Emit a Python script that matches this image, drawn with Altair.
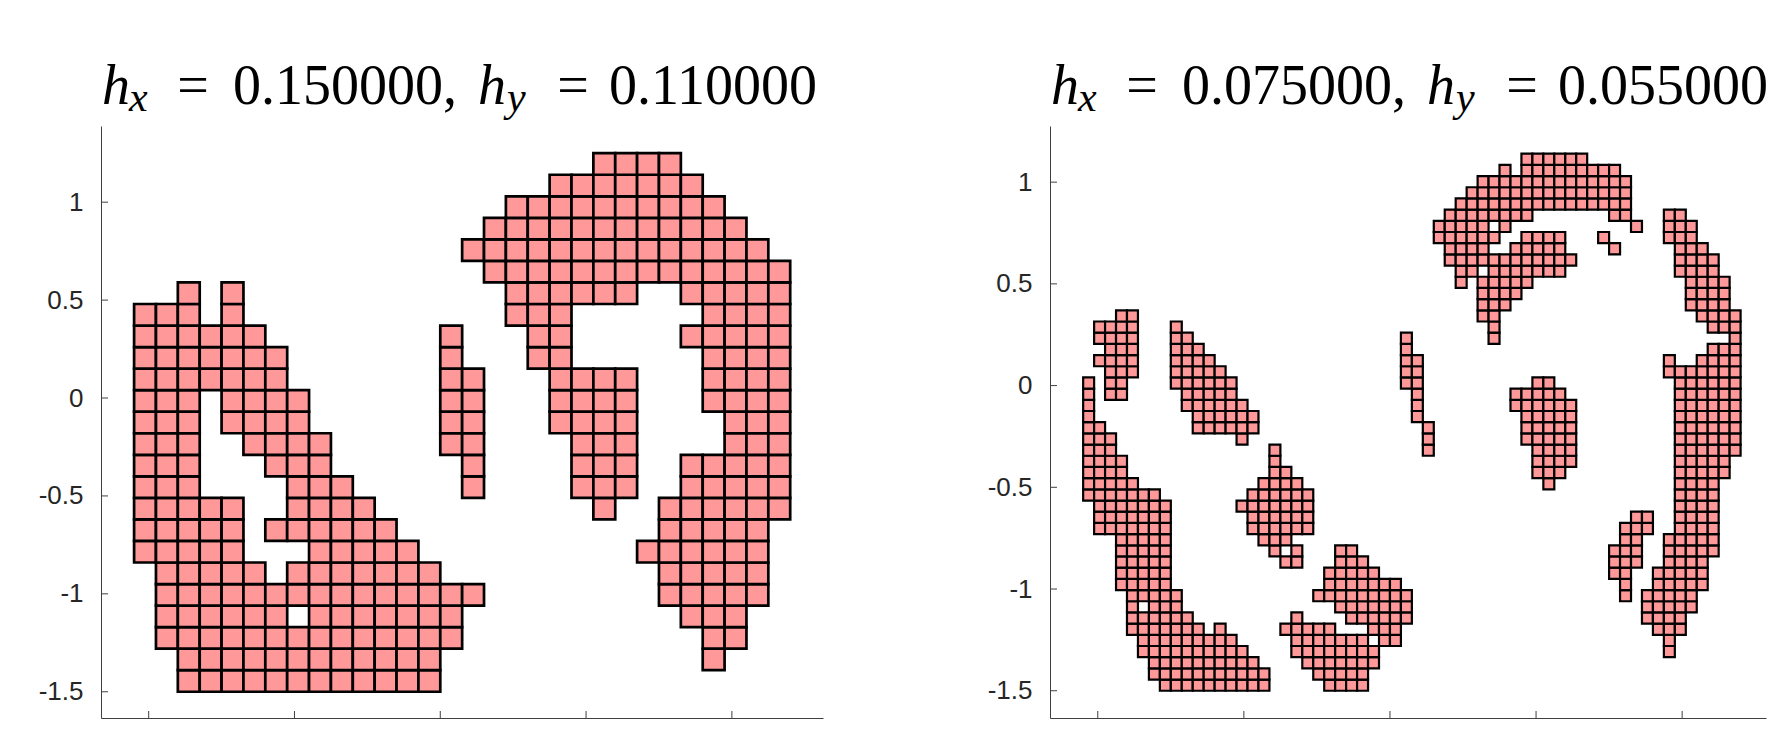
import altair as alt
import pandas as pd

# ---------------- grid parameters ----------------
X_ORIGIN = -2.1
Y_ORIGIN = -1.5
LEFT_H = (0.15, 0.11)
RIGHT_H = (0.075, 0.055)

# ---------------- cells: (row index, [(first col, last col), ...]) ----------------
LEFT_ROWS = [
    (0, [(2, 13)]),
    (1, [(2, 13), (26, 26)]),
    (2, [(1, 14), (26, 27)]),
    (3, [(1, 6), (8, 14), (25, 27)]),
    (4, [(1, 15), (24, 28)]),
    (5, [(1, 5), (7, 13), (24, 28)]),
    (6, [(0, 4), (8, 12), (23, 28)]),
    (7, [(0, 4), (6, 11), (24, 28)]),
    (8, [(0, 4), (7, 10), (21, 21), (24, 29)]),
    (9, [(0, 2), (7, 9), (15, 15), (20, 22), (25, 29)]),
    (10, [(0, 2), (6, 8), (15, 15), (20, 22), (25, 29)]),
    (11, [(0, 2), (5, 8), (14, 15), (20, 22), (27, 29)]),
    (12, [(0, 2), (4, 7), (14, 15), (19, 22), (27, 29)]),
    (13, [(0, 2), (4, 7), (14, 15), (19, 22), (26, 29)]),
    (14, [(0, 6), (14, 15), (19, 22), (26, 29)]),
    (15, [(0, 6), (14, 14), (18, 19), (26, 29)]),
    (16, [(0, 5), (14, 14), (18, 19), (25, 29)]),
    (17, [(0, 2), (4, 4), (17, 19), (26, 29)]),
    (18, [(2, 2), (4, 4), (17, 22), (25, 29)]),
    (19, [(16, 29)]),
    (20, [(15, 28)]),
    (21, [(16, 27)]),
    (22, [(17, 26)]),
    (23, [(19, 25)]),
    (24, [(21, 24)]),
]

RIGHT_ROWS = [
    (0, [(7, 16), (22, 25)]),
    (1, [(6, 16), (21, 25)]),
    (2, [(6, 15), (20, 26)]),
    (3, [(5, 14), (19, 26), (53, 53)]),
    (4, [(5, 13), (19, 25), (27, 28), (53, 53)]),
    (5, [(4, 10), (12, 12), (18, 22), (26, 28), (52, 54)]),
    (6, [(4, 9), (19, 19), (24, 29), (51, 54)]),
    (7, [(4, 4), (6, 8), (23, 29), (51, 55)]),
    (8, [(4, 8), (21, 29), (49, 49), (51, 55)]),
    (9, [(3, 7), (22, 28), (49, 49), (52, 56)]),
    (10, [(3, 7), (22, 26), (48, 49), (52, 56)]),
    (11, [(3, 7), (18, 19), (23, 25), (48, 50), (53, 56)]),
    (12, [(3, 7), (17, 17), (19, 19), (23, 24), (48, 50), (53, 57)]),
    (13, [(3, 7), (16, 18), (49, 50), (53, 57)]),
    (14, [(1, 7), (15, 20), (49, 51), (54, 57)]),
    (15, [(1, 7), (15, 20), (50, 51), (54, 57)]),
    (16, [(1, 7), (14, 20), (54, 57)]),
    (17, [(0, 6), (15, 20), (54, 57)]),
    (18, [(0, 4), (16, 19), (42, 42), (54, 57)]),
    (19, [(0, 3), (17, 18), (41, 43), (54, 58)]),
    (20, [(0, 3), (17, 17), (41, 44), (54, 58)]),
    (21, [(0, 2), (17, 17), (31, 31), (41, 44), (54, 59)]),
    (22, [(0, 2), (14, 14), (31, 31), (40, 44), (54, 59)]),
    (23, [(0, 1), (10, 15), (31, 31), (40, 44), (54, 59)]),
    (24, [(0, 0), (10, 15), (30, 30), (40, 44), (54, 59)]),
    (25, [(0, 0), (9, 14), (30, 30), (39, 44), (54, 59)]),
    (26, [(0, 0), (2, 3), (9, 13), (30, 30), (39, 43), (54, 59)]),
    (27, [(0, 0), (2, 3), (8, 13), (29, 30), (41, 42), (54, 59)]),
    (28, [(2, 4), (8, 12), (29, 30), (53, 59)]),
    (29, [(1, 4), (8, 11), (29, 30), (53, 53), (56, 59)]),
    (30, [(2, 4), (8, 10), (29, 29), (57, 59)]),
    (31, [(1, 4), (8, 9), (29, 29), (37, 37), (59, 59)]),
    (32, [(1, 4), (8, 8), (37, 37), (57, 59)]),
    (33, [(3, 4), (36, 37), (56, 59)]),
    (34, [(36, 38), (55, 58)]),
    (35, [(36, 39), (55, 58)]),
    (36, [(34, 34), (36, 40), (55, 58)]),
    (37, [(34, 35), (37, 43), (54, 57)]),
    (38, [(33, 44), (54, 57)]),
    (39, [(33, 36), (39, 43), (48, 48), (54, 56)]),
    (40, [(32, 37), (40, 43), (47, 47), (53, 55)]),
    (41, [(32, 36), (38, 38), (50, 50), (53, 55)]),
    (42, [(33, 40), (48, 49), (53, 54)]),
    (43, [(34, 49)]),
    (44, [(35, 49)]),
    (45, [(36, 49)]),
    (46, [(38, 38), (40, 48)]),
    (47, [(40, 45)]),
]

# ---------------- axes ----------------
X_TICKS = [-2, -1, 0, 1, 2]
Y_TICKS = [-1.5, -1, -0.5, 0, 0.5, 1]
LEFT_XDOM = [-2.327, 2.625]
LEFT_YDOM = [-1.634, 1.389]
RIGHT_XDOM = [-2.327, 2.574]
RIGHT_YDOM = [-1.634, 1.276]

LEFT_TITLE = ["h", "x", "=", "0.150000,", "h", "y", "=", "0.110000"]
RIGHT_TITLE = ["h", "x", "=", "0.075000,", "h", "y", "=", "0.055000"]

FILL = "#ff9999"
AXIS_COLOR = "#404040"
LABEL_COLOR = "#262626"
PLOT_H = 592


def cell_frame(rows, hx, hy):
    recs = []
    for r, runs in rows:
        for a, b in runs:
            for c in range(a, b + 1):
                recs.append({
                    "x0": X_ORIGIN + c * hx,
                    "x1": X_ORIGIN + (c + 1) * hx,
                    "y0": Y_ORIGIN + r * hy,
                    "y1": Y_ORIGIN + (r + 1) * hy,
                })
    return pd.DataFrame(recs)


def title_layers(pieces):
    src = pd.DataFrame({"k": [0]})
    # (text, x, y, size, italic, align)
    spec = [
        (pieces[0], 1, -22, 56, True, "left"),
        (pieces[1], 28, -15, 42, True, "left"),
        (pieces[2], 92, -22, 56, False, "center"),
        (pieces[3], 132, -22, 56, False, "left"),
        (pieces[4], 377, -22, 56, True, "left"),
        (pieces[5], 406, -15, 42, True, "left"),
        (pieces[6], 472, -22, 56, False, "center"),
        (pieces[7], 508, -22, 56, False, "left"),
    ]
    out = []
    for s, x, y, size, it, al in spec:
        out.append(
            alt.Chart(src).mark_text(
                text=s, font="Liberation Serif", fontSize=size,
                fontStyle="italic" if it else "normal", align=al,
                baseline="alphabetic", color="black",
            ).encode(x=alt.value(x), y=alt.value(y))
        )
    return out


def panel(rows, h, xdom, ydom, width, sw, pieces):
    df = cell_frame(rows, h[0], h[1])
    xs = alt.Scale(domain=xdom, nice=False, zero=False)
    ys = alt.Scale(domain=ydom, nice=False, zero=False)
    xaxis = alt.Axis(
        title=None, labels=False, ticks=False, grid=False,
        values=X_TICKS, domainColor=AXIS_COLOR, domainWidth=1)
    yaxis = alt.Axis(
        title=None, ticks=False, grid=False, values=Y_TICKS,
        labelExpr="'' + datum.value", labelFont="Liberation Sans",
        labelFontSize=26, labelColor=LABEL_COLOR, labelPadding=18,
        domainColor=AXIS_COLOR, domainWidth=1, minExtent=88, maxExtent=88)
    rects = alt.Chart(df).mark_rect(
        fill=FILL, stroke="black", strokeWidth=sw
    ).encode(
        x=alt.X("x0:Q", scale=xs, axis=xaxis),
        x2="x1:Q",
        y=alt.Y("y0:Q", scale=ys, axis=yaxis),
        y2="y1:Q",
    )
    ytick = alt.Chart(pd.DataFrame({"v": Y_TICKS})).mark_rule(
        color=AXIS_COLOR, strokeWidth=1
    ).encode(y=alt.Y("v:Q", scale=ys, axis=yaxis), x=alt.value(0), x2=alt.value(7))
    xtick = alt.Chart(pd.DataFrame({"v": X_TICKS})).mark_rule(
        color=AXIS_COLOR, strokeWidth=1
    ).encode(x=alt.X("v:Q", scale=xs, axis=xaxis), y=alt.value(PLOT_H), y2=alt.value(PLOT_H - 7))
    return alt.layer(rects, ytick, xtick, *title_layers(pieces)).properties(
        width=width, height=PLOT_H
    )


left = panel(LEFT_ROWS, LEFT_H, LEFT_XDOM, LEFT_YDOM, 722, 2.7, LEFT_TITLE)
right = panel(RIGHT_ROWS, RIGHT_H, RIGHT_XDOM, RIGHT_YDOM, 716, 2.2, RIGHT_TITLE)

chart = alt.hconcat(left, right, spacing=139).properties(
    padding={"left": 5, "top": 51, "right": 0, "bottom": 5}
).configure_view(stroke=None)

chart.save("out.html", embed_options={"renderer": "svg", "actions": False})
